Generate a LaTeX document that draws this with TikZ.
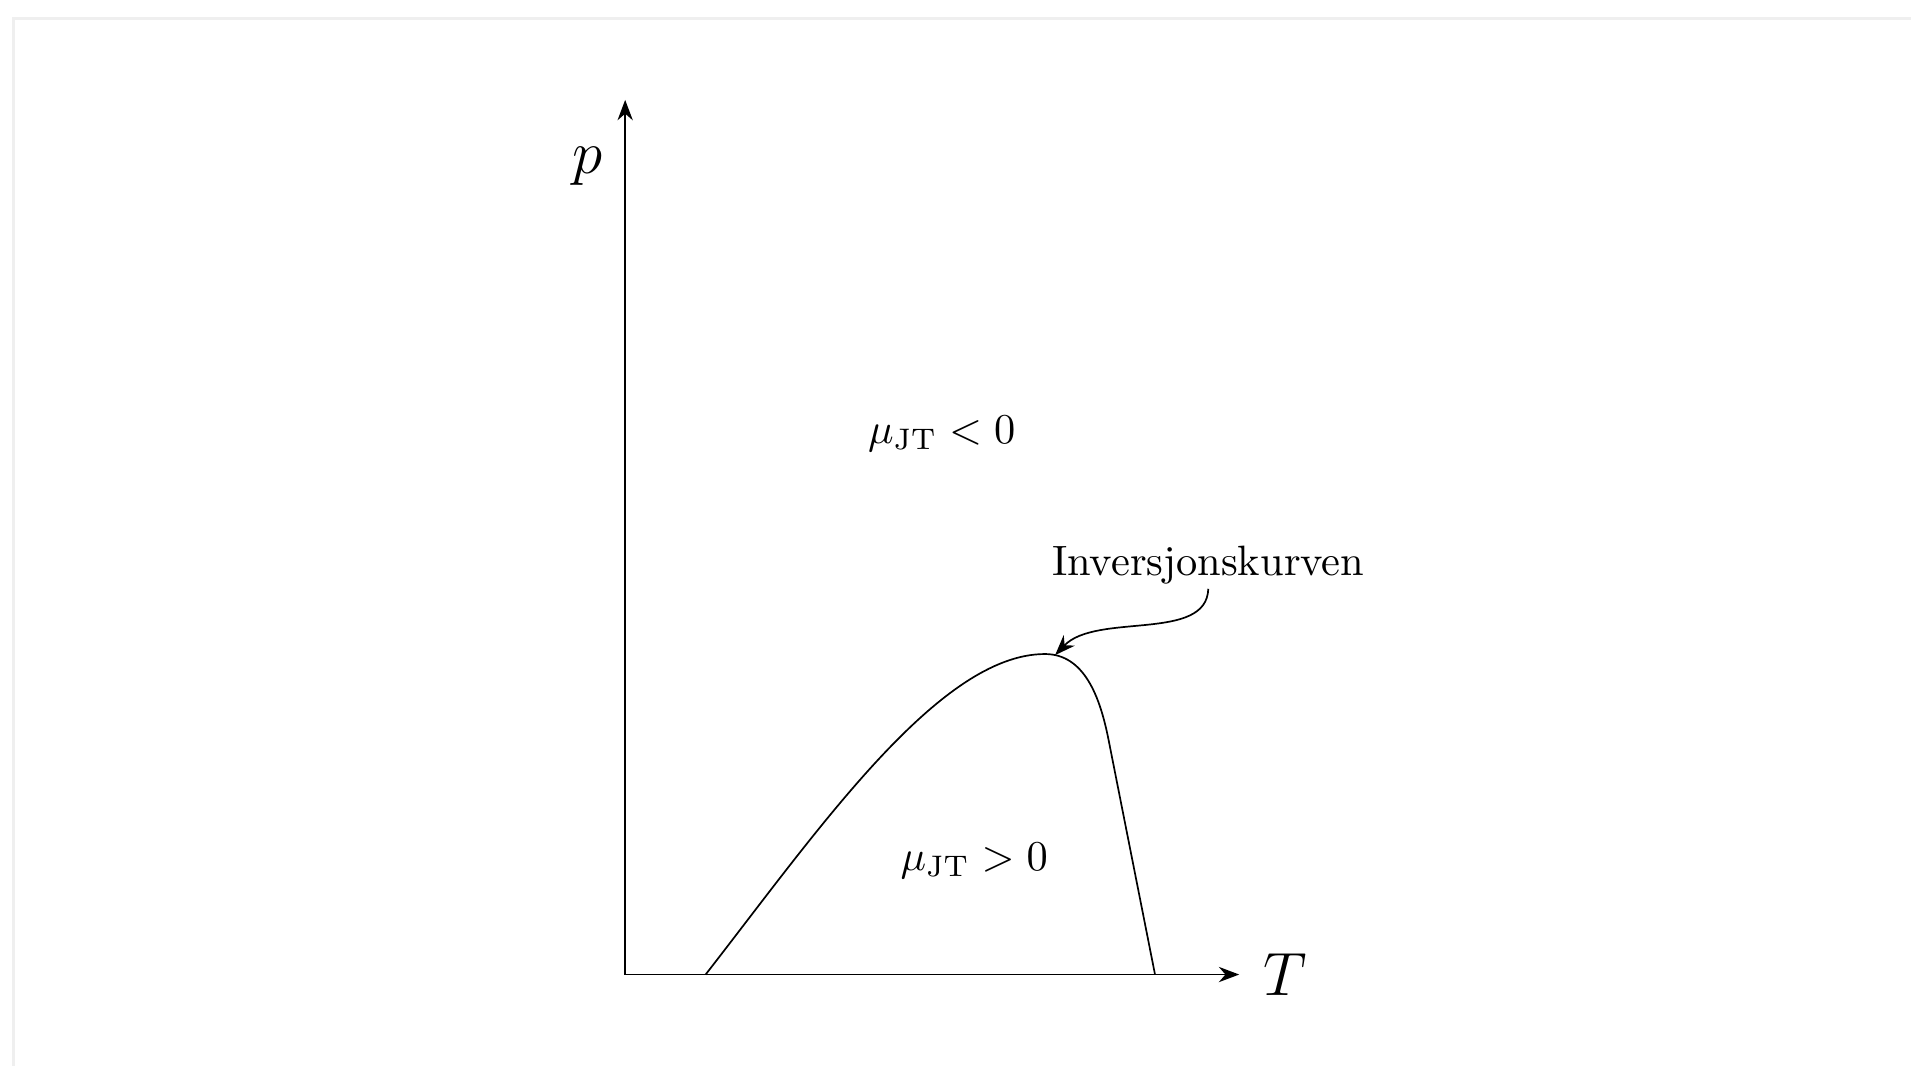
\documentclass[tikz,border=0pt]{standalone}
\usepackage{amsmath,amssymb}
\usepackage{tikz}
\usetikzlibrary{arrows.meta,positioning}
\usepackage{xcolor}
\definecolor{framegray}{RGB}{239,239,239}
\tikzset{
  diagram/.style={x=1cm,y=1cm,>=Stealth},
  axis/.style={->},
  axislabel/.style={font=\Large},
  region/.style={align=center},
  curvelabel/.style={inner sep=1pt},
  pointer/.style={->},
  frameline/.style={draw=framegray,line width=0.7pt},
}

\begin{document}
\begin{tikzpicture}[diagram]
\useasboundingbox (-5.175,-0.757) rectangle (10.644,8.067);
% frame of the page
\coordinate (fl) at (-5.064,-0.757);
\coordinate (fc) at (-5.064,7.912);
\coordinate (fr) at (10.644,7.912);
\draw[frameline] (fl) -- (fc) -- (fr);
% axes
\coordinate (O) at (0,0);
\coordinate (Tmax) at (5.083,0);
\coordinate (pmax) at (0,7.24);
\coordinate (plab) at (0,6.69);
\draw[axis] (O) -- (Tmax);
\draw[axis] (O) -- (pmax);
\node[axislabel,right=0.08cm of Tmax] (T) {$T$};
\node[axislabel,left=0.06cm of plab] (p) {$p$};
% inversion curve
\coordinate (a) at (0.666,0);
\coordinate (top) at (3.475,2.653);
\coordinate (b) at (4.0,1.95);
\coordinate (c) at (4.386,0);
\draw (a) .. controls (1.6,1.2) and (2.6,2.653) .. (top)
      .. controls (3.8,2.653) and (3.93,2.3) .. (b) -- (c);
% regions
\node[region] (neg) at (2.62,4.474) {$\mu_{\mathrm{JT}} < 0$};
\node[region] (pos) at (2.889,0.94) {$\mu_{\mathrm{JT}} > 0$};
% label with pointer
\node[curvelabel] (inv) at (4.827,3.393) {Inversjonskurven};
\coordinate (tip) at (3.559,2.644);
\draw[pointer] (inv.south) .. controls (4.814,2.75) and (3.9,3.0) .. (tip);
\end{tikzpicture}
\end{document}
